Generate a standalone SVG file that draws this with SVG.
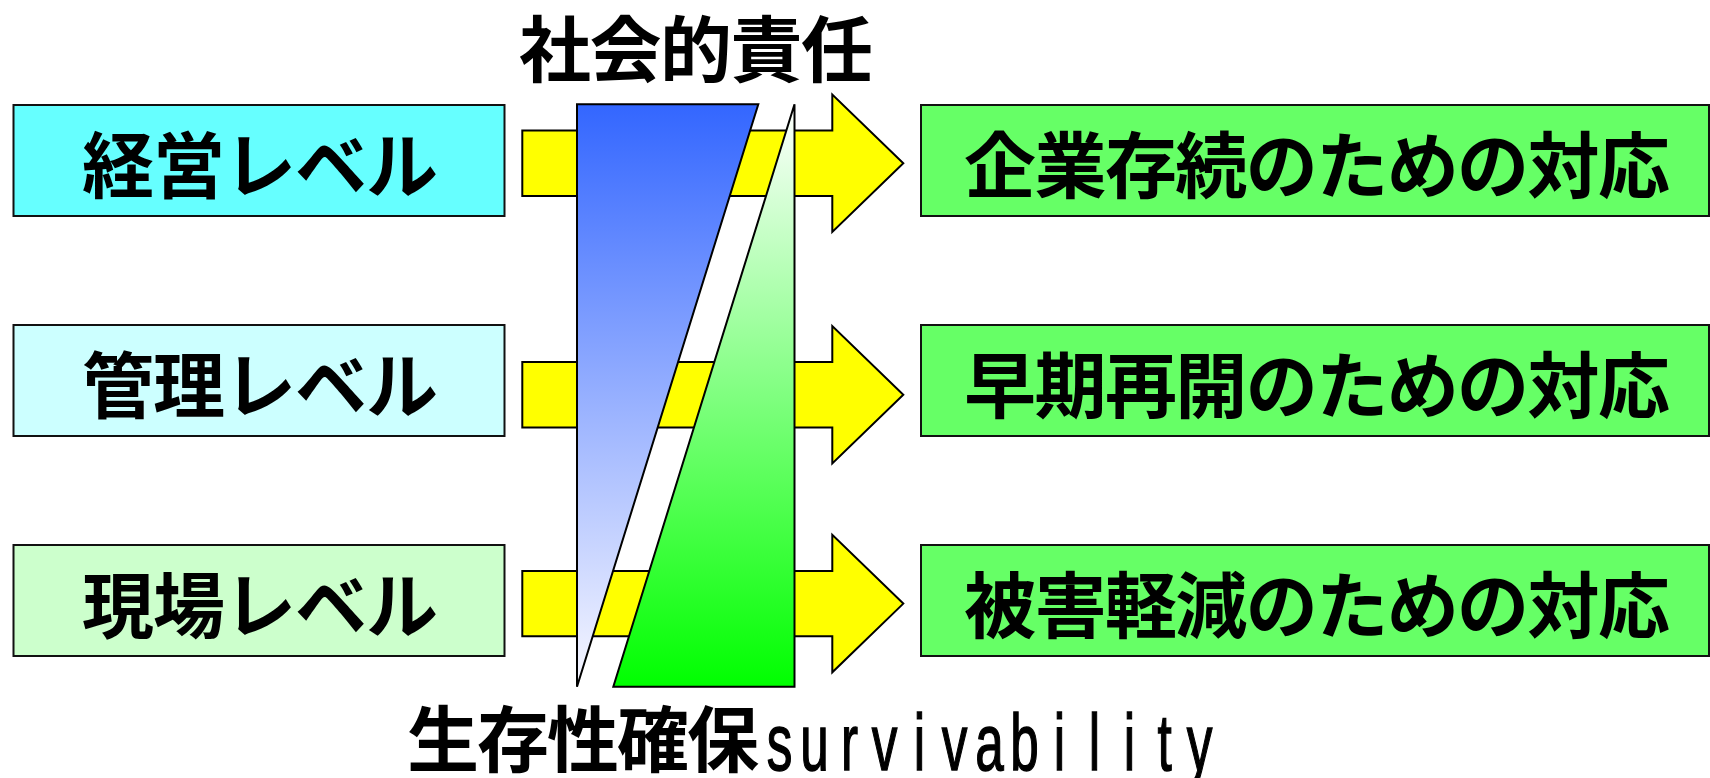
<svg xmlns="http://www.w3.org/2000/svg" width="1710" height="778" viewBox="0 0 1710 778">
<style>
.box{stroke:#111;stroke-width:2}
.arrow{fill:#FFFF00;stroke:#000;stroke-width:2;stroke-linejoin:miter}
.band{stroke:#000;stroke-width:2;stroke-linejoin:miter}
.jp{font-family:"Liberation Sans","Noto Sans CJK JP",sans-serif;font-weight:bold;font-size:72px;fill:#000}
.lat{font-family:"Liberation Sans",sans-serif;font-size:80px;fill:#000;stroke:#000;stroke-width:1.5}
</style>
<defs>
<linearGradient id="gBlue" gradientUnits="userSpaceOnUse" x1="0" y1="104" x2="0" y2="687">
<stop offset="0" stop-color="#3366FF"/>
<stop offset="1" stop-color="#F8F8FF"/>
</linearGradient>
<linearGradient id="gGreen" gradientUnits="userSpaceOnUse" x1="0" y1="104" x2="0" y2="687">
<stop offset="0" stop-color="#FFFFFF"/>
<stop offset="1" stop-color="#00FF00"/>
</linearGradient>
</defs>
<rect width="1710" height="778" fill="#FFFFFF"/>

<g id="level-management">
<rect class="box" x="13.5" y="105" width="491" height="111" fill="#66FFFF"/>
<text class="jp" x="260" y="192" text-anchor="middle" textLength="356" lengthAdjust="spacing">経営レベル</text>
</g>
<g id="level-control">
<rect class="box" x="13.5" y="325" width="491" height="111" fill="#CCFFFF"/>
<text class="jp" x="260" y="412" text-anchor="middle" textLength="356" lengthAdjust="spacing">管理レベル</text>
</g>
<g id="level-field">
<rect class="box" x="13.5" y="545" width="491" height="111" fill="#CCFFCC"/>
<text class="jp" x="260" y="632" text-anchor="middle" textLength="356" lengthAdjust="spacing">現場レベル</text>
</g>

<g id="response-continuity">
<rect class="box" x="921" y="105" width="788" height="111" fill="#66FF66"/>
<text class="jp" x="1317" y="192" text-anchor="middle" textLength="706" lengthAdjust="spacing">企業存続のための対応</text>
</g>
<g id="response-reopen">
<rect class="box" x="921" y="325" width="788" height="111" fill="#66FF66"/>
<text class="jp" x="1317" y="412" text-anchor="middle" textLength="706" lengthAdjust="spacing">早期再開のための対応</text>
</g>
<g id="response-mitigation">
<rect class="box" x="921" y="545" width="788" height="111" fill="#66FF66"/>
<text class="jp" x="1317" y="632" text-anchor="middle" textLength="706" lengthAdjust="spacing">被害軽減のための対応</text>
</g>

<g id="connectors">
<polygon class="arrow" points="522.3,130.6 832.3,130.6 832.3,94.6 903.3,163.3 832.3,232 832.3,196 522.3,196"/>
<polygon class="arrow" points="522.3,362.1 832.3,362.1 832.3,326.1 903.3,394.8 832.3,463.5 832.3,427.5 522.3,427.5"/>
<polygon class="arrow" points="522.3,570.9 832.3,570.9 832.3,534.9 903.3,603.6 832.3,672.3 832.3,636.3 522.3,636.3"/>
</g>

<g id="social-responsibility">
<polygon class="band" points="577,104.3 758.3,104.3 577,686.7" fill="url(#gBlue)"/>
<text class="jp" x="696" y="76" text-anchor="middle" textLength="354" lengthAdjust="spacing">社会的責任</text>
</g>

<g id="survivability">
<polygon class="band" points="794.5,104.3 794.5,686.7 613.3,686.7" fill="url(#gGreen)"/>
<text class="jp" x="407" y="766" textLength="352" lengthAdjust="spacing">生存性確保</text>
<text class="lat" transform="translate(762,770) scale(0.64,1)" x="7.3 59.8 123.4 171.4 237.2 280.8 333.2 387.9 456 510.7 565.3 617.8 663.6" y="0">survivability</text>
</g>
</svg>
